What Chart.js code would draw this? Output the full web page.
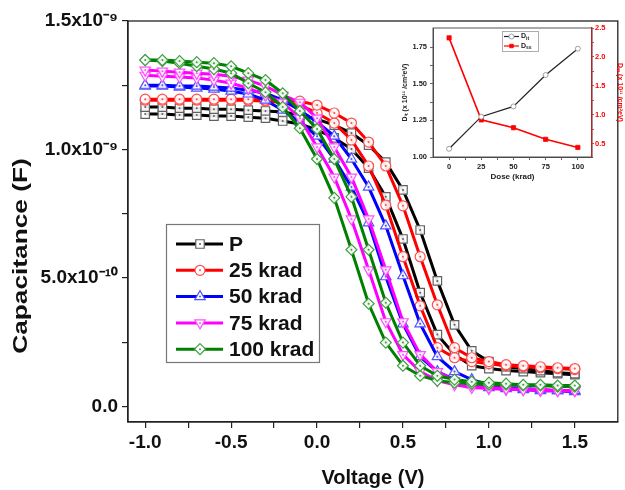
<!DOCTYPE html>
<html>
<head>
<meta charset="utf-8">
<script src="https://cdn.jsdelivr.net/npm/chart.js@4.4.0/dist/chart.umd.min.js"></script>
<style>
  body { margin: 0; background: #fff; }
  #wrap { position: relative; width: 625px; height: 490px; }
  #main { position: absolute; left: 0; top: 0; }
  #inset { position: absolute; left: 395px; top: 18px; }
</style>
</head>
<body>
<div id="wrap">
  <canvas id="main" width="625" height="490"></canvas>
  <canvas id="inset" width="230" height="175"></canvas>
</div>
<script>
// gate voltage (V)
var voltage = [-1.0, -0.9, -0.8, -0.7, -0.6, -0.5, -0.4, -0.3, -0.2, -0.1, 0.0, 0.1, 0.2,
  0.3, 0.4, 0.5, 0.6, 0.7, 0.8, 0.9, 1.0, 1.1, 1.2, 1.3, 1.4, 1.5];

// capacitance in units of 1e-9 F, two sweeps per dose
var pA = [1.165, 1.165, 1.161, 1.161, 1.157, 1.157, 1.153, 1.150, 1.146, 1.134, 1.118, 1.095, 1.064,
  1.017, 0.951, 0.843, 0.687, 0.489, 0.318, 0.217, 0.175, 0.155, 0.148, 0.140, 0.132, 0.128];
var pB = [1.138, 1.138, 1.134, 1.134, 1.130, 1.130, 1.126, 1.122, 1.111, 1.099, 1.076, 1.045, 1.002,
  0.928, 0.816, 0.652, 0.443, 0.280, 0.202, 0.159, 0.148, 0.140, 0.136, 0.132, 0.128, 0.124];
var k25A = [1.196, 1.196, 1.196, 1.196, 1.196, 1.196, 1.196, 1.192, 1.192, 1.188, 1.173, 1.142, 1.103,
  1.029, 0.936, 0.781, 0.583, 0.396, 0.229, 0.190, 0.175, 0.163, 0.159, 0.155, 0.151, 0.148];
var k25B = [1.192, 1.192, 1.192, 1.192, 1.192, 1.192, 1.192, 1.188, 1.184, 1.173, 1.142, 1.103, 1.037,
  0.936, 0.784, 0.583, 0.392, 0.229, 0.190, 0.175, 0.167, 0.159, 0.155, 0.151, 0.148, 0.144];
var k50A = [1.250, 1.250, 1.247, 1.247, 1.243, 1.239, 1.231, 1.219, 1.192, 1.153, 1.107, 1.052, 0.963,
  0.854, 0.703, 0.509, 0.322, 0.194, 0.136, 0.105, 0.085, 0.074, 0.070, 0.066, 0.062, 0.062];
var k50B = [1.247, 1.247, 1.243, 1.239, 1.235, 1.227, 1.216, 1.192, 1.153, 1.107, 1.052, 0.963, 0.854,
  0.715, 0.505, 0.322, 0.194, 0.136, 0.105, 0.085, 0.074, 0.070, 0.066, 0.062, 0.062, 0.058];
var k75A = [1.309, 1.305, 1.301, 1.297, 1.293, 1.285, 1.270, 1.247, 1.212, 1.184, 1.122, 1.010, 0.893,
  0.730, 0.532, 0.330, 0.202, 0.136, 0.101, 0.085, 0.074, 0.070, 0.066, 0.066, 0.062, 0.062];
var k75B = [1.289, 1.285, 1.282, 1.278, 1.270, 1.258, 1.239, 1.212, 1.184, 1.122, 1.010, 0.893, 0.730,
  0.532, 0.330, 0.202, 0.136, 0.101, 0.085, 0.074, 0.070, 0.066, 0.066, 0.062, 0.062, 0.062];
var k100A = [1.348, 1.348, 1.344, 1.340, 1.336, 1.324, 1.297, 1.270, 1.219, 1.150, 1.080, 0.963, 0.816,
  0.610, 0.404, 0.249, 0.159, 0.120, 0.105, 0.097, 0.093, 0.089, 0.085, 0.085, 0.082, 0.082];
var k100B = [1.348, 1.344, 1.336, 1.324, 1.313, 1.297, 1.258, 1.223, 1.165, 1.083, 0.963, 0.812, 0.610,
  0.400, 0.249, 0.159, 0.120, 0.101, 0.093, 0.089, 0.085, 0.085, 0.082, 0.082, 0.078, 0.078];

var seriesNames = ["P", "25 krad", "50 krad", "75 krad", "100 krad"];

// axis ticks
var xTickVals = [-1.0, -0.75, -0.5, -0.25, 0, 0.25, 0.5, 0.75, 1.0, 1.25, 1.5];
var xMajor = [-1.0, -0.5, 0, 0.5, 1.0, 1.5];
var xMajorText = ["-1.0", "-0.5", "0.0", "0.5", "1.0", "1.5"];
var yTickVals = [0, 0.25, 0.5, 0.75, 1.0, 1.25, 1.5];
var yMajor = [0, 0.5, 1.0, 1.5];
var yMajorText = ["0.0", "5.0x10\u207B\u00B9\u2070", "1.0x10\u207B\u2079", "1.5x10\u207B\u2079"];
var yTitle = "Capacitance (F)";

// inset: interface / surface state density vs dose
var dose = [0, 25, 50, 75, 100];
var dit = [1.056, 1.275, 1.345, 1.559, 1.739];
var dss = [2.33, 0.915, 0.78, 0.58, 0.44];
var doseTicks = [0, 12.5, 25, 37.5, 50, 62.5, 75, 87.5, 100];
var doseLabels = [0, 25, 50, 75, 100];
var ditTicks = [1.0, 1.125, 1.25, 1.375, 1.5, 1.625, 1.75];
var ditLabels = ["1.00", "1.25", "1.50", "1.75"];
var dssTicks = [0.5, 0.75, 1.0, 1.25, 1.5, 1.75, 2.0, 2.25, 2.5];
var dssLabels = ["0.5", "1.0", "1.5", "2.0", "2.5"];

var FONT = "'Liberation Sans', Arial, sans-serif";

var styles = [
  { color: "#000000", mark: "#606060", shape: "rect", r: 6, rot: 0, order: 5, a: pA, b: pB },
  { color: "#ff0000", mark: "#ff5050", shape: "circle", r: 5, rot: 0, order: 4, a: k25A, b: k25B },
  { color: "#0000ff", mark: "#5050ff", shape: "triangle", r: 6, rot: 0, order: 3, a: k50A, b: k50B },
  { color: "#ff00ff", mark: "#ff50ff", shape: "triangle", r: 6, rot: 180, order: 2, a: k75A, b: k75B },
  { color: "#008000", mark: "#40a040", shape: "rectRot", r: 5.5, rot: 0, order: 1, a: k100A, b: k100B }
];

function pts(arr) {
  return voltage.map(function (v, i) { return { x: v, y: arr[i] }; });
}

var datasets = [];
styles.forEach(function (s, i) {
  [s.a, s.b].forEach(function (arr) {
    datasets.push({
      label: seriesNames[i],
      data: pts(arr),
      borderColor: s.color,
      borderWidth: 3,
      pointStyle: s.shape,
      pointRotation: s.rot,
      pointRadius: s.r,
      pointBackgroundColor: "rgba(255,255,255,0.9)",
      pointBorderColor: s.mark,
      pointBorderWidth: 1.2,
      order: s.order,
      tension: 0
    });
  });
});

function marker(ctx, shape, rot, x, y, r) {
  ctx.beginPath();
  if (shape === "rect") {
    var h = r * Math.SQRT1_2;
    ctx.rect(x - h, y - h, 2 * h, 2 * h);
  } else if (shape === "circle") {
    ctx.arc(x, y, r, 0, Math.PI * 2);
  } else if (shape === "rectRot") {
    ctx.moveTo(x, y - r); ctx.lineTo(x + r, y); ctx.lineTo(x, y + r); ctx.lineTo(x - r, y); ctx.closePath();
  } else {
    var d = rot ? -1 : 1;
    ctx.moveTo(x, y - d * r);
    ctx.lineTo(x + r * 0.866, y + d * r * 0.5);
    ctx.lineTo(x - r * 0.866, y + d * r * 0.5);
    ctx.closePath();
  }
  ctx.fill();
  ctx.stroke();
}

// small dot in the middle of every marker
var centerDots = {
  id: "centerDots",
  afterDatasetDraw: function (chart, args) {
    var ds = chart.data.datasets[args.index];
    var ctx = chart.ctx;
    ctx.save();
    ctx.fillStyle = ds.pointBorderColor;
    args.meta.data.forEach(function (p) {
      ctx.beginPath();
      ctx.arc(p.x, p.y, 1, 0, Math.PI * 2);
      ctx.fill();
    });
    ctx.restore();
  }
};

var frame = {
  id: "frame",
  afterDraw: function (chart) {
    var a = chart.chartArea, ctx = chart.ctx;
    ctx.save();
    ctx.strokeStyle = chart.options.frameColor || "#222";
    ctx.lineWidth = chart.options.frameWidth || 1.3;
    ctx.strokeRect(a.left, a.top, a.right - a.left, a.bottom - a.top);
    ctx.restore();
  }
};

// y title sits lower than the axis centre in the original
var sideTitle = {
  id: "sideTitle",
  afterDraw: function (chart) {
    var ctx = chart.ctx;
    ctx.save();
    ctx.translate(21, 256);
    ctx.rotate(-Math.PI / 2);
    ctx.scale(1.25, 1);
    ctx.font = "bold 21px " + FONT;
    ctx.fillStyle = "#111";
    ctx.textAlign = "center";
    ctx.textBaseline = "middle";
    ctx.fillText(yTitle, 0, 0);
    ctx.restore();
  }
};

var boxLegend = {
  id: "boxLegend",
  afterDraw: function (chart) {
    var ctx = chart.ctx;
    ctx.save();
    ctx.fillStyle = "#fff";
    ctx.fillRect(166, 224, 153, 138);
    ctx.strokeStyle = "#777";
    ctx.lineWidth = 1.2;
    ctx.strokeRect(166.5, 224.5, 153, 138);
    ctx.font = "bold 21px " + FONT;
    ctx.textBaseline = "middle";
    styles.forEach(function (s, i) {
      var y = 244 + i * 26.3;
      ctx.strokeStyle = s.color;
      ctx.lineWidth = 3;
      ctx.beginPath(); ctx.moveTo(176, y); ctx.lineTo(223, y); ctx.stroke();
      ctx.fillStyle = "#fff";
      ctx.strokeStyle = s.mark;
      ctx.lineWidth = 1.2;
      marker(ctx, s.shape, s.rot, 200, y, s.r);
      ctx.fillStyle = s.mark;
      ctx.beginPath(); ctx.arc(200, y, 1, 0, Math.PI * 2); ctx.fill();
      ctx.fillStyle = "#111";
      ctx.fillText(seriesNames[i], 229, y + 1);
    });
    ctx.restore();
  }
};

function pick(vals, texts) {
  return function (v) {
    for (var i = 0; i < vals.length; i++) {
      if (Math.abs(vals[i] - v) < 1e-6) return texts[i];
    }
    return "";
  };
}

new Chart(document.getElementById("main").getContext("2d"), {
  type: "line",
  data: { datasets: datasets },
  options: {
    responsive: false,
    animation: false,
    devicePixelRatio: 1,
    layout: { padding: { left: 0, right: 2, top: 21, bottom: 0 } },
    plugins: { legend: { display: false }, tooltip: { enabled: false } },
    scales: {
      x: {
        type: "linear", min: -1.1, max: 1.75,
        afterBuildTicks: function (s) { s.ticks = xTickVals.map(function (v) { return { value: v }; }); },
        afterFit: function (s) { s.height = 68; },
        grid: { drawOnChartArea: false, tickLength: 6, color: "#222", lineWidth: 1.2 },
        border: { color: "#222", width: 1.3 },
        ticks: {
          padding: 3, color: "#111", maxRotation: 0, autoSkip: false,
          font: { family: FONT, size: 19, weight: "bold" },
          callback: pick(xMajor, xMajorText)
        },
        title: {
          display: true, text: "Voltage (V)", color: "#111",
          font: { family: FONT, size: 20, weight: "bold" }, padding: { top: 0, bottom: 0 }
        }
      },
      y: {
        type: "linear", min: -0.06, max: 1.5,
        afterBuildTicks: function (s) { s.ticks = yTickVals.map(function (v) { return { value: v }; }); },
        afterFit: function (s) { s.width = 128; },
        grid: { drawOnChartArea: false, tickLength: 6, color: "#222", lineWidth: 1.2 },
        border: { color: "#222", width: 1.3 },
        ticks: {
          padding: 4, color: "#111", autoSkip: false,
          font: { family: FONT, size: 19, weight: "bold" },
          callback: pick(yMajor, yMajorText)
        },
        title: { display: false }
      }
    }
  },
  plugins: [centerDots, frame, sideTitle, boxLegend]
});

// inset
var insetLegend = {
  id: "insetLegend",
  afterDraw: function (chart) {
    var ctx = chart.ctx;
    ctx.save();
    ctx.fillStyle = "#fff";
    ctx.fillRect(107, 13, 36, 20);
    ctx.strokeStyle = "#999";
    ctx.lineWidth = 0.8;
    ctx.strokeRect(107.5, 13.5, 36, 20);
    ctx.font = "bold 7px " + FONT;
    ctx.textBaseline = "middle";
    [["D", "it", "#222", "#888", "circle"], ["D", "ss", "#ff0000", "#ff0000", "rect"]].forEach(function (e, i) {
      var y = 18.5 + i * 9.5;
      ctx.strokeStyle = e[2];
      ctx.lineWidth = 1.2;
      ctx.beginPath(); ctx.moveTo(109, y); ctx.lineTo(124, y); ctx.stroke();
      ctx.fillStyle = e[4] === "circle" ? "#fff" : e[3];
      ctx.strokeStyle = e[3];
      ctx.lineWidth = 0.8;
      marker(ctx, e[4], 0, 116.5, y, 2.5);
      ctx.fillStyle = "#222";
      ctx.fillText(e[0], 126, y);
      ctx.font = "bold 5px " + FONT;
      ctx.fillText(e[1], 131, y + 2);
      ctx.font = "bold 7px " + FONT;
    });
    ctx.restore();
  }
};

var tinyFont = { family: FONT, size: 7.5, weight: "bold" };

new Chart(document.getElementById("inset").getContext("2d"), {
  type: "line",
  data: {
    datasets: [
      {
        label: "Dit", yAxisID: "y",
        data: dose.map(function (d, i) { return { x: d, y: dit[i] }; }),
        borderColor: "#222", borderWidth: 1.2, tension: 0,
        pointStyle: "circle", pointRadius: 2.5,
        pointBackgroundColor: "#fff", pointBorderColor: "#888", pointBorderWidth: 0.8
      },
      {
        label: "Dss", yAxisID: "y2",
        data: dose.map(function (d, i) { return { x: d, y: dss[i] }; }),
        borderColor: "#ff0000", borderWidth: 1.6, tension: 0,
        pointStyle: "rect", pointRadius: 3,
        pointBackgroundColor: "#ff0000", pointBorderColor: "#ff0000", pointBorderWidth: 0.8
      }
    ]
  },
  options: {
    responsive: false,
    animation: false,
    devicePixelRatio: 1,
    frameColor: "#555",
    frameWidth: 1,
    layout: { padding: { left: 0, right: 0, top: 10, bottom: 0 } },
    plugins: { legend: { display: false }, tooltip: { enabled: false } },
    scales: {
      x: {
        type: "linear", min: -12.5, max: 111,
        afterBuildTicks: function (s) { s.ticks = doseTicks.map(function (v) { return { value: v }; }); },
        afterFit: function (s) { s.height = 36; },
        grid: { drawOnChartArea: false, tickLength: 3, color: "#444", lineWidth: 0.8 },
        border: { color: "#444", width: 1 },
        ticks: {
          padding: 2, color: "#222", maxRotation: 0, autoSkip: false, font: tinyFont,
          callback: pick(doseLabels, doseLabels.map(String))
        },
        title: {
          display: true, text: "Dose (krad)", color: "#222",
          font: { family: FONT, size: 8, weight: "bold" }, padding: { top: 0, bottom: 11 }
        }
      },
      y: {
        type: "linear", position: "left", min: 1.0, max: 1.88,
        afterBuildTicks: function (s) { s.ticks = ditTicks.map(function (v) { return { value: v }; }); },
        afterFit: function (s) { s.width = 38; },
        grid: { drawOnChartArea: false, tickLength: 3, color: "#444", lineWidth: 0.8 },
        border: { color: "#444", width: 1 },
        ticks: {
          padding: 3, color: "#222", autoSkip: false, font: tinyFont,
          callback: pick([1.0, 1.25, 1.5, 1.75], ditLabels)
        },
        title: {
          display: true, text: "D\u1D62\u209C (x 10\u00B9\u00B9 /cm\u00B2eV)", color: "#222",
          font: { family: FONT, size: 7, weight: "bold" }, padding: { top: 6, bottom: 0 }
        }
      },
      y2: {
        type: "linear", position: "right", min: 0.275, max: 2.5,
        afterBuildTicks: function (s) { s.ticks = dssTicks.map(function (v) { return { value: v }; }); },
        afterFit: function (s) { s.width = 33; },
        grid: { drawOnChartArea: false, tickLength: 2, color: "#ff0000", lineWidth: 0.8 },
        border: { color: "#ff0000", width: 1.2 },
        ticks: {
          padding: 1, color: "#ff0000", autoSkip: false, font: tinyFont,
          callback: pick([0.5, 1.0, 1.5, 2.0, 2.5], dssLabels)
        },
        title: {
          display: true, text: "D\u209B\u209B (x 10\u00B9\u00B9 /cm\u00B2eV)", color: "#ff0000",
          font: { family: FONT, size: 7, weight: "bold" }, padding: { top: 1, bottom: 0 }
        }
      }
    }
  },
  plugins: [frame, insetLegend]
});
</script>
</body>
</html>
